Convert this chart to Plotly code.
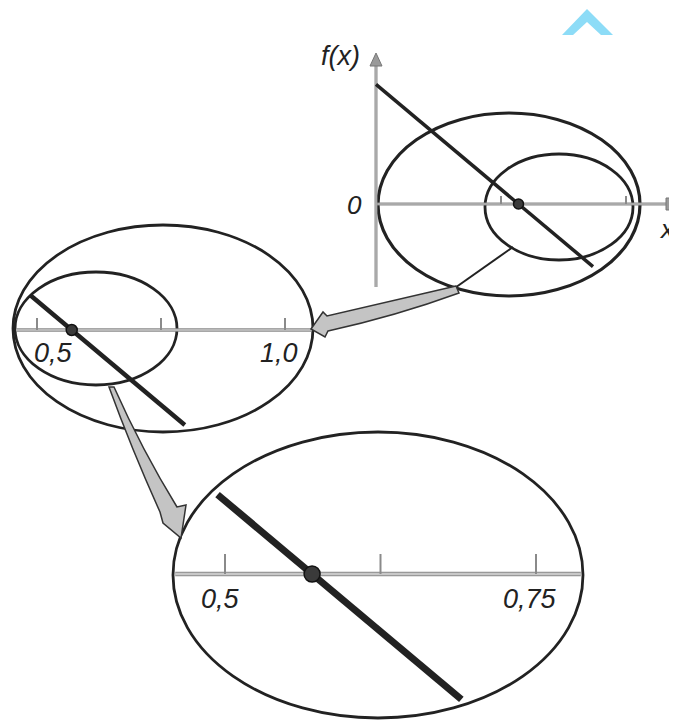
import numpy as np
import plotly.graph_objects as go

# ---- data (mathematical values) ----
root = 0.57            # zero of f
slope = -0.84          # f(x) = slope * (x - root)
top_line_x = [0.0, 0.868]
mid_line_x = [0.486, 0.798]
bot_line_x = [0.494, 0.690]
top_ticks = [0.5, 1.0]
mid_ticks = [0.5, 0.75, 1.0]
mid_tick_labels = ["0,5", "", "1,0"]
bot_ticks = [0.5, 0.625, 0.75]
bot_tick_labels = ["0,5", "", "0,75"]
top_axis_x = [0.0, 1.18]
top_axis_y = [-0.332, 0.59]
mid_axis_x = [0.458, 1.054]
bot_axis_x = [0.46, 0.786]


def f(x):
    return slope * (np.asarray(x, dtype=float) - root)


# panel placement (zoom levels)
panels = {
    "top": dict(x0=376, v0=0.0, y0=204, s=250, lw=3.5, dot=10, tick=8, axw=3),
    "mid": dict(x0=37, v0=0.5, y0=330, s=496, lw=4.5, dot=11, tick=12, axw=3.5),
    "bot": dict(x0=225, v0=0.5, y0=574, s=1244, lw=7, dot=16, tick=20, axw=4.5),
}


def PX(p, v):
    return p["x0"] + (np.asarray(v, dtype=float) - p["v0"]) * p["s"]


def PY(p, y):
    return p["y0"] - np.asarray(y, dtype=float) * p["s"]


fig = go.Figure()
AX_DARK = "#8a8a8a"
AX_LIGHT = "#c8c8c8"
INK = "#222222"


def axis_line(xs, ys, w):
    fig.add_trace(go.Scatter(x=xs, y=ys, mode="lines",
                             line=dict(color=AX_DARK, width=w), hoverinfo="skip"))
    fig.add_trace(go.Scatter(x=xs, y=ys, mode="lines",
                             line=dict(color=AX_LIGHT, width=max(w - 2.2, 1)), hoverinfo="skip"))


# axes
pt = panels["top"]
axis_line(list(PX(pt, top_axis_x)), [pt["y0"], pt["y0"]], pt["axw"])
axis_line([pt["x0"], pt["x0"]], list(PY(pt, top_axis_y)), pt["axw"])
pm = panels["mid"]
axis_line(list(PX(pm, mid_axis_x)), [pm["y0"], pm["y0"]], pm["axw"])
pb = panels["bot"]
axis_line(list(PX(pb, bot_axis_x)), [pb["y0"], pb["y0"]], pb["axw"])

# ticks
for key, ticks in (("top", top_ticks), ("mid", mid_ticks), ("bot", bot_ticks)):
    p = panels[key]
    for t in ticks:
        xx = float(PX(p, t))
        fig.add_trace(go.Scatter(x=[xx, xx], y=[p["y0"], p["y0"] - p["tick"]], mode="lines",
                                 line=dict(color=AX_DARK, width=2), hoverinfo="skip"))

# function lines
for key, xs in (("top", top_line_x), ("mid", mid_line_x), ("bot", bot_line_x)):
    p = panels[key]
    fig.add_trace(go.Scatter(x=list(PX(p, xs)), y=list(PY(p, f(xs))), mode="lines",
                             line=dict(color=INK, width=p["lw"]), hoverinfo="skip"))

# root dots
for key in ("top", "mid", "bot"):
    p = panels[key]
    fig.add_trace(go.Scatter(x=[float(PX(p, root))], y=[float(PY(p, 0.0))], mode="markers",
                             marker=dict(size=p["dot"], color="#3a3a3a",
                                         line=dict(color="#111", width=1.5)),
                             hoverinfo="skip"))

shapes = []
# ellipses (magnifier frames)
ell = [
    (378, 113, 640, 296, 3.2),
    (485, 154, 633, 260, 2.8),
    (13, 225, 313, 432, 2.8),
    (15, 272, 177, 385, 2.8),
    (173, 432, 583, 718, 2.8),
]
for x0, y0, x1, y1, w in ell:
    shapes.append(dict(type="circle", xref="x", yref="y", x0=x0, y0=y0, x1=x1, y1=y1,
                       line=dict(color=INK, width=w), layer="below"))

# axis arrowheads (top panel)
shapes.append(dict(type="path", xref="x", yref="y",
                   path="M 370 66 L 376 53 L 382 66 Z",
                   fillcolor="#9a9a9a", line=dict(color="#777", width=1)))
shapes.append(dict(type="path", xref="x", yref="y",
                   path="M 666 198 L 677 198 L 677 210 L 666 210 Z",
                   fillcolor="#9a9a9a", line=dict(color="#777", width=1)))

# connector arrows
shapes.append(dict(type="path", xref="x", yref="y",
                   path="M 513 247 L 452 290",
                   line=dict(color=INK, width=2)))
shapes.append(dict(type="path", xref="x", yref="y",
                   path="M 456 286 Q 392 301 327 316 L 323 312 L 311 329 L 325 337 L 328 331 Q 396 316 459 293 Z",
                   fillcolor="#c4c4c4", line=dict(color="#333", width=1.5)))
shapes.append(dict(type="path", xref="x", yref="y",
                   path="M 109 387 Q 132 450 160 512 L 163 523 L 181 538 L 186 505 L 177 507 Q 142 450 114 387 Z",
                   fillcolor="#c4c4c4", line=dict(color="#333", width=1.5)))

# light-blue chevron (top right)
shapes.append(dict(type="path", xref="x", yref="y",
                   path="M 562 35 L 587 9 L 613 35 L 601 35 L 587 22 L 573 35 Z",
                   fillcolor="#8ddcf7", line=dict(color="#8ddcf7", width=0)))

annos = []
FONT = "Liberation Sans"


def label(x, y, text, size, xanchor="center"):
    annos.append(dict(x=x, y=y, xref="x", yref="y", text=f"<i>{text}</i>", showarrow=False,
                      xanchor=xanchor, yanchor="middle",
                      font=dict(family=FONT, size=size, color=INK)))


label(340, 56, "f(x)", 27)
label(354, 205, "0", 26)
label(677, 229, "x", 26, xanchor="right")

mid_shift = [16, 0, -6]
for t, lab, sh in zip(mid_ticks, mid_tick_labels, mid_shift):
    if lab:
        label(float(PX(pm, t)) + sh, pm["y0"] + 23, lab, 27)
bot_shift = [-5, 0, -6]
for t, lab, sh in zip(bot_ticks, bot_tick_labels, bot_shift):
    if lab:
        label(float(PX(pb, t)) + sh, pb["y0"] + 25, lab, 27)

# page body has an 8px margin: shrink figure and shift ranges so the
# drawing lands on the same window pixels as the reference
OFF = 8
fig.update_layout(
    width=677 - OFF, height=722 - OFF,
    margin=dict(l=0, r=0, t=0, b=0),
    paper_bgcolor="white", plot_bgcolor="white",
    showlegend=False,
    xaxis=dict(range=[OFF, 677], visible=False, fixedrange=True),
    yaxis=dict(range=[722, OFF], visible=False, fixedrange=True),
    shapes=shapes, annotations=annos,
)
fig.write_html("out.html")
